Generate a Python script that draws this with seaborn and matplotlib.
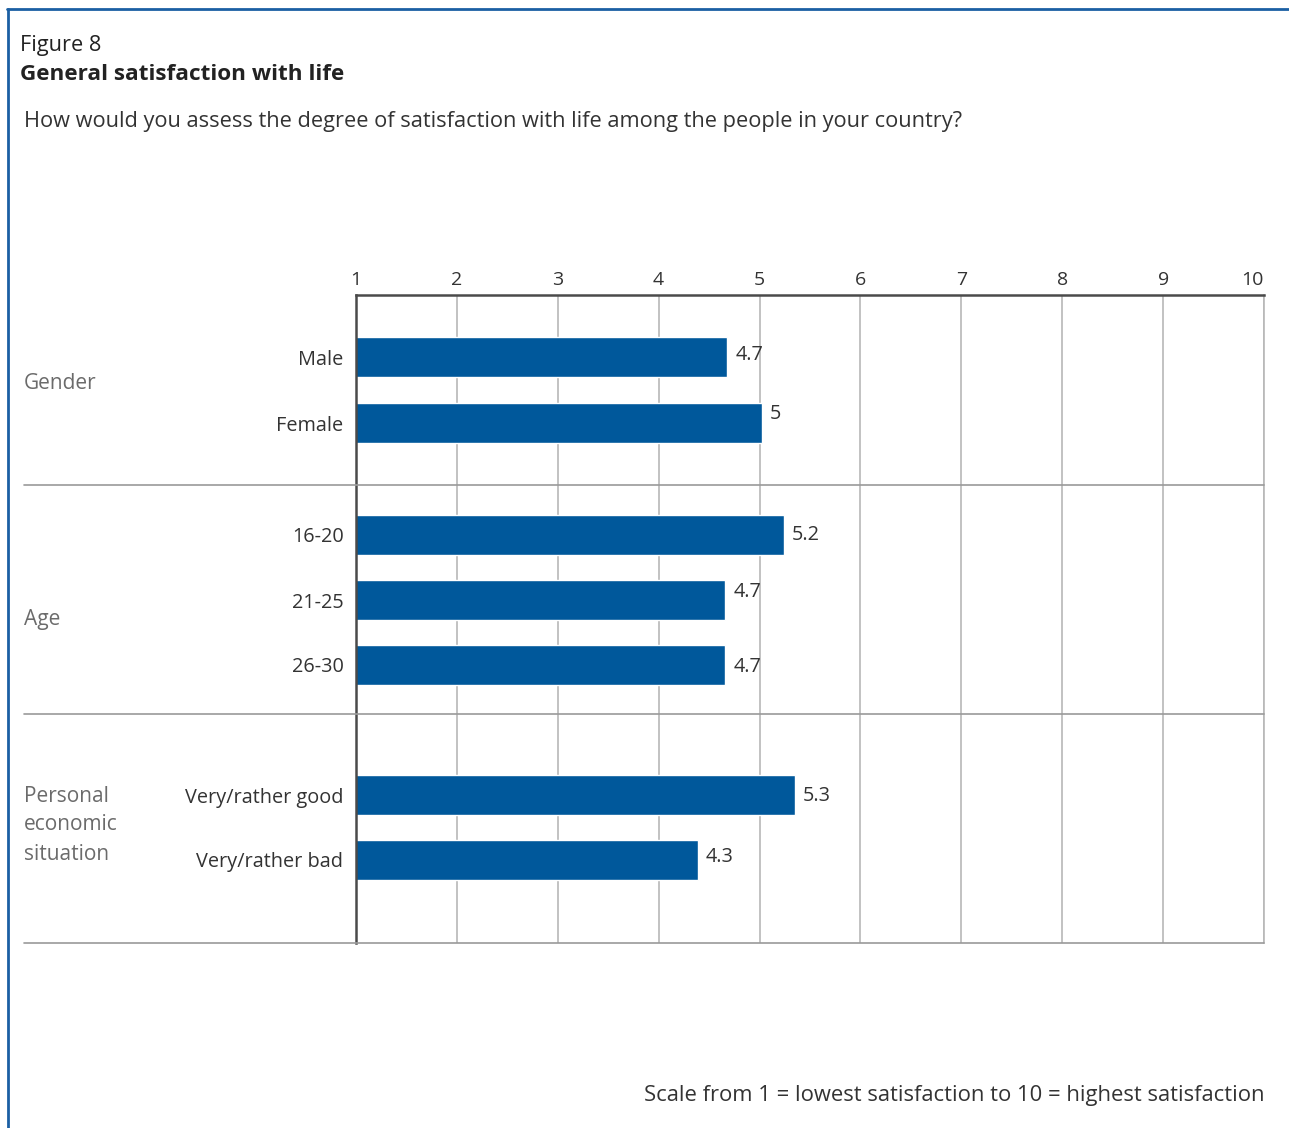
import pandas as pd
import seaborn as sns
import matplotlib.pyplot as plt
from matplotlib.lines import Line2D

# values (bar lengths) and the printed labels
categories = ['Male', 'Female', '16-20', '21-25', '26-30', 'Very/rather good', 'Very/rather bad']
scores = [4.68, 5.02, 5.24, 4.66, 4.66, 5.35, 4.39]
score_labels = ['4.7', '5', '5.2', '4.7', '4.7', '5.3', '4.3']
group_names = ['Gender', 'Age', 'Personal\neconomic\nsituation']
tick_values = [1, 2, 3, 4, 5, 6, 7, 8, 9, 10]

W, H = 1289, 1128
BAR = '#00589b'
FRAME = '#1b5fa3'
DARK = '#333333'
GREY = '#6b6b6b'

# layout (pixels from the top of the plot area)
row_pos = [62, 128, 240, 305, 370, 500, 565]
label_nudge = [-2, -9, 0, -8, 2, 1, -3]
sep_pos = [190, 419, 648]
group_pos = [88, 324, 530]

def fx(px):
    return px / W

def fy(py):
    return 1 - py / H

sns.set_theme(style='white')
plt.rcParams['font.family'] = ['Open Sans', 'DejaVu Sans']

fig = plt.figure(figsize=(W / 100, H / 100), dpi=100)
ax = fig.add_axes([fx(356), fy(943), fx(1264) - fx(356), fy(295) - fy(943)])

df = pd.DataFrame({'category': categories, 'score': scores, 'row': row_pos})
sns.barplot(data=df, x='score', y='row', orient='h', native_scale=True,
            color=BAR, saturation=1, width=40 / 65, errorbar=None, ax=ax)

ax.set_xlim(1, 10)
ax.set_ylim(648, 0)
ax.set_xlabel('')
ax.set_ylabel('')

ax.xaxis.tick_top()
ax.set_xticks(tick_values)
ax.set_xticklabels([str(t) for t in tick_values])
ax.tick_params(axis='x', length=0, pad=4, labelsize=14, labelcolor=DARK)
ax.get_xticklabels()[-1].set_ha('right')
ax.set_yticks(row_pos)
ax.set_yticklabels(categories)
ax.tick_params(axis='y', length=0, pad=9, labelsize=14.3, labelcolor=DARK)

ax.set_axisbelow(True)
ax.grid(axis='x', color='#b8b8b8', lw=1.2)
ax.grid(axis='y', visible=False)
for side in ['top', 'left']:
    ax.spines[side].set_color('#4a4a4a')
    ax.spines[side].set_linewidth(1.8)
ax.spines['right'].set_color('#b8b8b8')
ax.spines['right'].set_linewidth(1.2)
ax.spines['bottom'].set_visible(False)

for s, lab, r, n in zip(scores, score_labels, row_pos, label_nudge):
    ax.text(s + 0.08, r + n, lab, ha='left', va='center', fontsize=14.3, color=DARK)

# group separators run across the label column
for sp in sep_pos:
    fig.add_artist(Line2D([fx(24), fx(1264)], [fy(295 + sp)] * 2, color='#9a9a9a', lw=1.2))

for name, gp in zip(group_names, group_pos):
    fig.text(fx(24), fy(295 + gp), name, ha='left', va='center', fontsize=15,
             color=GREY, linespacing=1.5)

# outer frame (top and left)
fig.add_artist(Line2D([fx(7), fx(W)], [fy(9), fy(9)], color=FRAME, lw=2))
fig.add_artist(Line2D([fx(8), fx(8)], [fy(9), fy(H)], color=FRAME, lw=2))

fig.text(fx(20), fy(46), 'Figure 8', ha='left', va='center', fontsize=15.7, color='#222222')
fig.text(fx(20), fy(75), 'General satisfaction with life', ha='left', va='center',
         fontsize=16.2, fontweight='bold', color='#222222')
fig.text(fx(24), fy(121), 'How would you assess the degree of satisfaction with life among the people in your country?',
         ha='left', va='center', fontsize=15.7, color=DARK)
fig.text(fx(1265), fy(1096), 'Scale from 1 = lowest satisfaction to 10 = highest satisfaction',
         ha='right', va='center', fontsize=15.8, color=DARK)

fig.savefig('out.png', dpi=100)
